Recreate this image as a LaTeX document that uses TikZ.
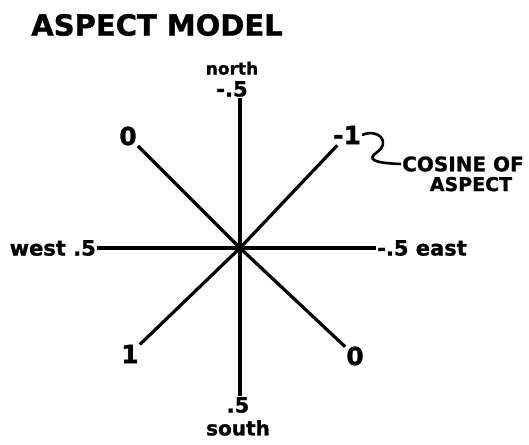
\documentclass[tikz,border=0pt]{standalone}
\usepackage{fontspec}
\setmainfont{DejaVu Sans}[BoldFeatures={FakeBold=1.2}]
\usetikzlibrary{positioning}

\tikzset{
  lab/.style={font=\bfseries\fontsize{21}{21}\selectfont, inner sep=1pt},
  num/.style={font=\bfseries\fontsize{25}{25}\selectfont, inner sep=1pt},
  spoke/.style={line width=3.2pt},
}

\begin{document}
\begin{tikzpicture}[x=1pt,y=-1pt]
\useasboundingbox (0,0) rectangle (529,444);
\coordinate (c) at (240,248);
\node[font=\bfseries\fontsize{29}{29}\selectfont] (title) at (157,25) {ASPECT MODEL};
% axis values
\node[lab] (nval) at (232,89) {-.5};
\node[lab,font=\bfseries\fontsize{17}{17}\selectfont,above=4pt of nval] (north) {north};
\node[lab] (sval) at (238,405) {.5};
\node[lab,font=\bfseries\fontsize{20}{20}\selectfont,below=5pt of sval] (south) {south};
\node[lab,anchor=east] (west) at (97,248) {west .5};
\node[lab,anchor=west] (east) at (376,248) {-.5 east};
% diagonal values
\node[num] (nw) at (128,136) {0};
\node[num] (ne) at (347,135) {-1};
\node[num] (sw) at (130,354) {1};
\node[num] (se) at (355,356) {0};
\node[lab,font=\bfseries\fontsize{20}{20}\selectfont,anchor=west] (cos1) at (401,164) {COSINE OF};
\node[lab,font=\bfseries\fontsize{19}{19}\selectfont,below=3pt of cos1.south,xshift=8pt] (cos2) {ASPECT};
% spokes
\draw[spoke] (c |- nval.south) -- (c |- sval.north);
\draw[spoke] (west) -- (east);
\foreach \n in {nw,ne,sw,se} \draw[spoke] (c) -- (\n);
\draw[line width=2.6pt] (ne.east) .. controls (378,128) and (392,142) .. (376,153)
  .. controls (368,159) and (372,163) .. (cos1.west);
\end{tikzpicture}
\end{document}
